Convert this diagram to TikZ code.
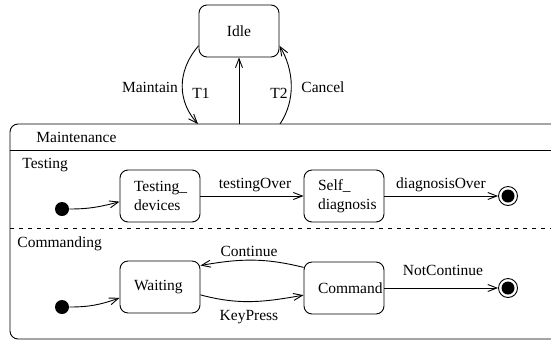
\documentclass[tikz,border=0pt]{standalone}
\usepackage{fontspec}
\setmainfont{Liberation Serif}
\usetikzlibrary{arrows.meta}

\begin{document}
\begin{tikzpicture}[x=1pt,y=-1pt,
    font=\fontsize{15.5}{19}\selectfont,
    line width=0.9pt,
    >={Straight Barb[length=9pt,width=7pt]},
    idlebox/.style={draw,rounded corners=8pt,minimum width=80pt,minimum height=52pt},
    statebox/.style={draw,rounded corners=8pt,minimum height=52pt,
      text width=52pt,align=left,inner xsep=14pt},
    startdot/.style={circle,fill,inner sep=0pt,minimum size=14pt},
    enddot/.style={circle,draw,inner sep=0pt,minimum size=19pt,
      path picture={\fill (path picture bounding box.center) circle (6.5pt);}},
    lbl/.style={inner sep=0pt}
  ]
  \useasboundingbox (0,0) rectangle (551,341);

  % composite state and its regions
  \draw[rounded corners=8pt] (10,124) rectangle (575,339);
  \draw (10,150) -- (575,150);
  \draw[dash pattern=on 4pt off 5pt] (10,228) -- (575,228);
  \coordinate (topT1) at (198,124);
  \coordinate (topMid) at (239,124);
  \coordinate (topT2) at (280,124);

  \node[lbl,anchor=west] (maintlbl) at (36,137) {Maintenance};
  \node[lbl,anchor=west] (testlbl) at (22,165) {Testing};
  \node[lbl,anchor=west] (cmdlbl) at (17,244) {Commanding};

  % states
  \node[idlebox] (idle) at (239,31) {Idle};
  \node[statebox] (testdev) at (160,196) {Testing\_\\devices};
  \node[statebox] (selfdiag) at (344,196) {Self\_\\diagnosis};
  \node[statebox] (waiting) at (160,287) {Waiting};
  \node[statebox] (command) at (344,288) {Command};

  \node[startdot] (tstart) at (62,209) {};
  \node[startdot] (cstart) at (62,307) {};
  \node[enddot] (tend) at (508,196) {};
  \node[enddot] (cend) at (508,288) {};

  % transitions
  \draw[->] (idle.200) .. controls (176,72) and (178,102) .. (topT1);
  \draw[->] (topMid) -- (idle.south);
  \draw[->] (topT2) .. controls (296,100) and (294,70) .. (idle.-20);
  \draw[->] (tstart) to[out=0,in=195] (testdev.188);
  \draw[->] (testdev) -- (selfdiag);
  \draw[->] (selfdiag) -- (tend);
  \draw[->] (cstart) to[out=0,in=200] (waiting.195);
  \draw[->] (command.153) to[out=166,in=10] (waiting.28);
  \draw[->] (waiting.-11) to[out=-15,in=190] (command.190);
  \draw[->] (command) -- (cend);

  \node[lbl] (maintainlbl) at (150,87) {Maintain};
  \node[lbl] (tonelbl) at (201,93) {T1};
  \node[lbl] (ttwolbl) at (279,93) {T2};
  \node[lbl] (cancellbl) at (323,87) {Cancel};
  \node[lbl] (testoverlbl) at (255,185) {testingOver};
  \node[lbl] (diagoverlbl) at (441,185) {diagnosisOver};
  \node[lbl] (contlbl) at (249,251) {Continue};
  \node[lbl] (keylbl) at (249,317) {KeyPress};
  \node[lbl] (notcontlbl) at (443,270) {NotContinue};
\end{tikzpicture}
\end{document}
